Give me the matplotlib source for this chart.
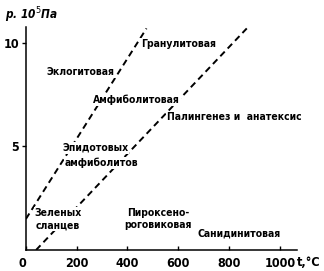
import matplotlib
matplotlib.use("Agg")
import matplotlib.pyplot as plt
from matplotlib import font_manager

# ── DATA ──────────────────────────────────────
# dashed boundaries (t, °C ; p, 10^5 Pa)
line1_t = [0, 475]
line1_p = [1.5, 10.7]
line2_t = [40, 870]
line2_p = [0.0, 10.7]

x_ticks = [0, 200, 400, 600, 800, 1000]
x_labels = ["0", "200", "400", "600", "800", "1000"]
y_ticks = [5, 10]
y_labels = ["5", "10"]

names = {f.name for f in font_manager.fontManager.ttflist}
FONT = ["Liberation Sans Narrow"] if "Liberation Sans Narrow" in names else ["DejaVu Sans"]
STRETCH = "normal" if FONT[0] == "Liberation Sans Narrow" else "condensed"

fig = plt.figure(figsize=(3.24, 2.71), dpi=100)
fig.patch.set_facecolor("white")
ax = fig.add_axes([0.080, 0.0775, 0.836, 0.823])
ax.set_xlim(0, 1067)
ax.set_ylim(0, 10.77)

for t, p in [(line1_t, line1_p), (line2_t, line2_p)]:
    ax.plot(t, p, color="black", linewidth=1.4, linestyle=(0, (3.3, 2.2)))

ax.spines["top"].set_visible(False)
ax.spines["right"].set_visible(False)
ax.spines["left"].set_linewidth(1.1)
ax.spines["bottom"].set_linewidth(1.1)

ax.set_xticks(x_ticks)
ax.set_xticklabels(x_labels)
ax.set_yticks(y_ticks)
ax.set_yticklabels(y_labels)
ax.tick_params(axis="x", direction="in", length=3, width=1, pad=5)
ax.tick_params(axis="y", direction="out", length=3, width=1, pad=2)
for lab in ax.get_xticklabels() + ax.get_yticklabels():
    lab.set_family(FONT)
    lab.set_stretch(STRETCH)
    lab.set_fontsize(9)
    lab.set_fontweight("bold")
ax.get_xticklabels()[0].set_ha("right")

# ── FIELD LABELS ──────────────────────────────
# white box behind text hides the dashes, like in the original figure
mask = dict(facecolor="white", edgecolor="none", pad=0.5)
kw = dict(family=FONT, stretch=STRETCH, fontsize=7.5, fontweight="bold",
          ha="center", va="center", bbox=mask, zorder=3)
ax.text(213, 8.6, "Эклогитовая", **kw)
ax.text(600, 9.95, "Гранулитовая", **kw)
ax.text(436, 7.25, "Амфиболитовая", **kw)
ax.text(819, 6.4, "Палингенез и  анатексис", **kw)
ax.text(274, 4.93, "Эпидотовых", **kw)
ax.text(297, 4.2, "амфиболитов", **kw)
ax.text(126, 1.5, "Зеленых\nсланцев", linespacing=1.35, **kw)
ax.text(520, 1.5, "Пироксено-\nроговиковая", linespacing=1.35, **kw)
ax.text(838, 0.8, "Санидинитовая", **kw)

# axis titles
fig.text(0.015, 0.945, "р. 10$^5$Па", family=FONT, stretch=STRETCH, fontsize=8.5,
         fontweight="bold", style="italic", ha="left", va="center")
fig.text(0.915, 0.033, "t,°C", family=FONT, stretch=STRETCH, fontsize=9,
         fontweight="bold", ha="left", va="center")

plt.savefig("out.png", dpi=100, facecolor="white")
